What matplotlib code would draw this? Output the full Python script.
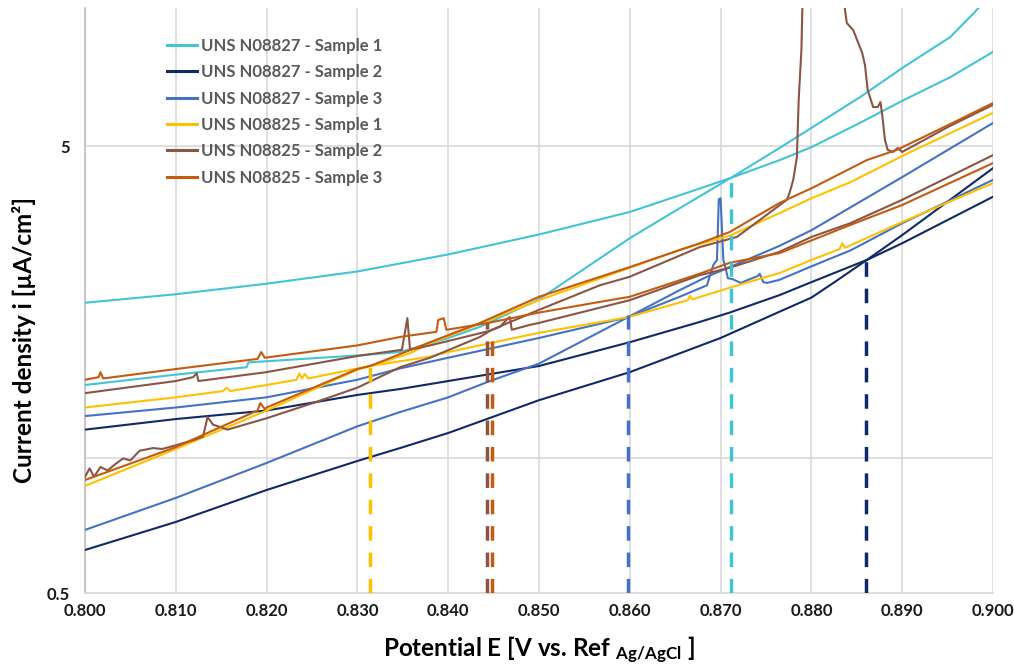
import matplotlib
matplotlib.use('Agg')
import matplotlib.pyplot as plt
from matplotlib.ticker import FixedLocator, NullLocator, FixedFormatter

plt.rcParams['font.family'] = ['Lato', 'DejaVu Sans']
plt.rcParams['font.weight'] = 'bold'
plt.rcParams['mathtext.fontset'] = 'custom'
plt.rcParams['mathtext.rm'] = 'Lato:bold'
plt.rcParams['mathtext.bf'] = 'Lato:bold'
plt.rcParams['mathtext.it'] = 'Lato:bold'

# ---------------- data ----------------
labels = ["UNS N08827 - Sample 1", "UNS N08827 - Sample 2", "UNS N08827 - Sample 3",
          "UNS N08825 - Sample 1", "UNS N08825 - Sample 2", "UNS N08825 - Sample 3"]
colors = ["#41c4d6", "#0f2a68", "#4472c4", "#ffc000", "#8b5545", "#c55a11"]

# UNS N08827 - Sample 1
s1a_x = [0.800, 0.810, 0.820, 0.830, 0.840, 0.850, 0.860, 0.8655, 0.8711, 0.8765, 0.880, 0.8854, 0.890, 0.8953, 0.900]
s1a_y = [2.23, 2.33, 2.46, 2.62, 2.86, 3.17, 3.56, 3.88, 4.24, 4.65, 4.97, 5.64, 6.31, 7.13, 8.12]
s1b_x = [0.800, 0.810, 0.8178, 0.8180, 0.820, 0.830, 0.8347, 0.840, 0.8435, 0.850, 0.860, 0.8655, 0.8711, 0.8765, 0.880, 0.8854, 0.890, 0.8953, 0.8980, 0.8990]
s1b_y = [1.46, 1.54, 1.60, 1.64, 1.65, 1.70, 1.73, 1.86, 1.97, 2.27, 3.11, 3.63, 4.24, 4.95, 5.49, 6.44, 7.47, 8.77, 9.97, 10.5]

# UNS N08827 - Sample 2
s2a_x = [0.800, 0.810, 0.820, 0.830, 0.8347, 0.840, 0.850, 0.860, 0.8677, 0.8710, 0.8765, 0.880, 0.8861, 0.890, 0.900]
s2a_y = [1.16, 1.225, 1.28, 1.387, 1.43, 1.49, 1.61, 1.82, 2.02, 2.12, 2.32, 2.48, 2.78, 3.03, 3.85]
s2b_x = [0.800, 0.810, 0.820, 0.830, 0.8347, 0.840, 0.850, 0.860, 0.870, 0.8765, 0.880, 0.8828, 0.8861, 0.890, 0.900]
s2b_y = [0.624, 0.721, 0.850, 0.987, 1.055, 1.14, 1.35, 1.56, 1.86, 2.13, 2.29, 2.50, 2.78, 3.16, 4.46]

# UNS N08827 - Sample 3
s3a_x = [0.800, 0.810, 0.820, 0.830, 0.8347, 0.840, 0.850, 0.8598, 0.8655, 0.8685, 0.8692, 0.8696,
         0.8698, 0.8700, 0.8703, 0.8705, 0.8708, 0.8713, 0.8722, 0.8741, 0.8743, 0.8747, 0.8751,
         0.8765, 0.880, 0.8843, 0.890, 0.900]
s3a_y = [1.244, 1.30, 1.37, 1.50, 1.59, 1.68, 1.86, 2.07, 2.30, 2.44, 2.71, 2.78,
         3.80, 3.82, 2.78, 2.69, 2.53, 2.52, 2.47, 2.56, 2.59, 2.48, 2.47,
         2.51, 2.69, 2.92, 3.36, 4.20]
s3b_x = [0.800, 0.810, 0.820, 0.830, 0.8347, 0.840, 0.8446, 0.850, 0.8598, 0.8655, 0.8685, 0.8765, 0.880, 0.890, 0.900]
s3b_y = [0.692, 0.816, 0.977, 1.18, 1.27, 1.37, 1.49, 1.63, 2.07, 2.38, 2.55, 2.99, 3.24, 4.26, 5.63]

# UNS N08825 - Sample 1
s4a_x = [0.800, 0.810, 0.8152, 0.8156, 0.8160, 0.820, 0.8233, 0.8236, 0.8239, 0.8242, 0.8246, 0.830,
         0.8314, 0.838, 0.840, 0.850, 0.8598, 0.8664, 0.8666, 0.8669, 0.871, 0.8765, 0.880,
         0.8831, 0.8834, 0.8837, 0.890, 0.900]
s4a_y = [1.30, 1.37, 1.415, 1.44, 1.415, 1.46, 1.50, 1.55, 1.51, 1.545, 1.51, 1.59,
         1.61, 1.69, 1.73, 1.91, 2.07, 2.26, 2.31, 2.27, 2.41, 2.60, 2.78,
         2.94, 3.03, 2.96, 3.38, 4.13]
s4b_x = [0.800, 0.810, 0.820, 0.830, 0.8314, 0.8358, 0.838, 0.8432, 0.850, 0.860, 0.8655, 0.871, 0.8765, 0.880, 0.8843, 0.890, 0.900]
s4b_y = [0.868, 1.05, 1.28, 1.58, 1.61, 1.72, 1.81, 1.99, 2.26, 2.67, 2.93, 3.15, 3.54, 3.82, 4.15, 4.75, 5.93]

# UNS N08825 - Sample 2
s5a_x = [0.800, 0.810, 0.8119, 0.8123, 0.8125, 0.820, 0.830, 0.8349, 0.8355, 0.8358, 0.838, 0.8446,
         0.8457, 0.8466, 0.8468, 0.8470, 0.849, 0.850, 0.860, 0.8677, 0.871, 0.8765, 0.880, 0.8843,
         0.890, 0.900]
s5a_y = [1.40, 1.49, 1.52, 1.55, 1.49, 1.56, 1.695, 1.75, 2.06, 1.75, 1.79, 1.93,
         1.97, 2.06, 2.07, 1.94, 1.99, 2.01, 2.26, 2.57, 2.67, 2.90, 3.13, 3.36,
         3.79, 4.77]
s5b_x = [0.800, 0.8005, 0.8010, 0.8017, 0.8025, 0.8033, 0.8042, 0.8050, 0.8060, 0.8075, 0.8085, 0.810,
         0.8120, 0.8130, 0.8135, 0.8141, 0.8152, 0.8157, 0.820, 0.8251, 0.830, 0.8347, 0.838, 0.8435,
         0.8448, 0.850, 0.8567, 0.860, 0.8677, 0.8718, 0.8773, 0.8776, 0.8780, 0.8784, 0.8786, 0.8789,
         0.8790, 0.8810, 0.8837, 0.8839, 0.8846, 0.8856, 0.8859, 0.8862, 0.8868, 0.8873, 0.8876, 0.8878,
         0.8881, 0.8884, 0.8890, 0.8895, 0.8900, 0.8953, 0.900]
s5b_y = [0.909, 0.95, 0.91, 0.957, 0.94, 0.97, 1.00, 0.99, 1.04, 1.055, 1.05, 1.07,
         1.10, 1.12, 1.238, 1.19, 1.17, 1.16, 1.23, 1.33, 1.44, 1.60, 1.68, 1.87,
         1.94, 2.15, 2.44, 2.55, 2.97, 3.13, 3.79, 3.93, 4.2, 4.72, 6.34, 8.20,
         10.08, 30.0, 10.08, 9.42, 9.09, 8.07, 7.59, 6.67, 6.11, 6.11, 6.27, 5.87,
         5.16, 4.90, 4.85, 4.95, 4.85, 5.55, 6.18]

# UNS N08825 - Sample 3
s6a_x = [0.800, 0.8015, 0.8017, 0.8020, 0.810, 0.8190, 0.8194, 0.8198, 0.830, 0.8347, 0.8387, 0.8389,
         0.8395, 0.8398, 0.8444, 0.850, 0.8567, 0.860, 0.8677, 0.871, 0.8765, 0.8843, 0.890, 0.900]
s6a_y = [1.50, 1.52, 1.56, 1.51, 1.585, 1.67, 1.73, 1.68, 1.79, 1.87, 1.92, 2.04,
         2.06, 1.94, 2.01, 2.12, 2.24, 2.30, 2.59, 2.74, 2.88, 3.33, 3.69, 4.58]
s6b_x = [0.800, 0.810, 0.8190, 0.8193, 0.8198, 0.820, 0.830, 0.8314, 0.838, 0.8435, 0.850, 0.860,
         0.8677, 0.871, 0.8765, 0.8801, 0.8861, 0.8894, 0.8953, 0.900]
s6b_y = [0.895, 1.06, 1.28, 1.33, 1.29, 1.30, 1.585, 1.61, 1.82, 2.01, 2.30, 2.68,
         3.03, 3.21, 3.73, 4.03, 4.65, 4.90, 5.60, 6.24]

curves_a = [(s1a_x, s1a_y), (s2a_x, s2a_y), (s3a_x, s3a_y), (s4a_x, s4a_y), (s5a_x, s5a_y), (s6a_x, s6a_y)]
curves_b = [(s1b_x, s1b_y), (s2b_x, s2b_y), (s3b_x, s3b_y), (s4b_x, s4b_y), (s5b_x, s5b_y), (s6b_x, s6b_y)]

# dashed markers (potential at intersection)
dash_x = [0.8711, 0.8860, 0.8598, 0.8314, 0.8443, 0.8448]
dash_top = [4.24, 2.81, 2.09, 1.61, 2.01, 1.94]

x_ticks = [0.80, 0.81, 0.82, 0.83, 0.84, 0.85, 0.86, 0.87, 0.88, 0.89, 0.90]
x_tick_labels = ["0.800", "0.810", "0.820", "0.830", "0.840", "0.850",
                 "0.860", "0.870", "0.880", "0.890", "0.900"]
y_ticks = [0.5, 1, 5]
y_tick_labels = ["0.5", "", "5"]

# ---------------- plot ----------------
W, H = 1014, 665
fig = plt.figure(figsize=(W / 100, H / 100), dpi=100)
ax = fig.add_axes([85 / W, 72 / H, 908 / W, 585 / H])

for i in range(6):
    xa, ya = curves_a[i]
    xb, yb = curves_b[i]
    ax.plot(xa, ya, color=colors[i], lw=1.5, label=labels[i], zorder=3)
    ax.plot(xb, yb, color=colors[i], lw=1.5, zorder=3)

for i in range(6):
    ax.plot([dash_x[i], dash_x[i]], [0.5, dash_top[i]], color=colors[i], lw=2.5,
            dashes=(4.2, 3.4), dash_capstyle='butt', zorder=4)

ax.set_yscale('log')
ax.set_xlim(0.8, 0.9)
ax.set_ylim(0.5, 10.18)
ax.yaxis.set_major_locator(FixedLocator(y_ticks))
ax.yaxis.set_major_formatter(FixedFormatter(y_tick_labels))
ax.yaxis.set_minor_locator(NullLocator())
ax.set_xticks(x_ticks)
ax.set_xticklabels(x_tick_labels)
ax.grid(True, color='#d9d9d9', lw=1.2, zorder=0)
ax.set_axisbelow(True)
ax.tick_params(axis='both', length=0, labelsize=12, colors='#1a1a1a')
ax.tick_params(axis='x', pad=7)
ax.tick_params(axis='y', pad=11)
for s in ['top', 'right']:
    ax.spines[s].set_visible(False)
ax.spines['left'].set_color('#bfbfbf')
ax.spines['bottom'].set_color('#d9d9d9')
ax.spines['left'].set_linewidth(1.2)
ax.spines['bottom'].set_linewidth(1.2)

leg = ax.legend(loc='upper left', bbox_to_anchor=(0.0905, 0.949), frameon=False,
                fontsize=12, handlelength=1.8, handletextpad=0.2, labelspacing=0.62,
                borderpad=0, borderaxespad=0)
for t in leg.get_texts():
    t.set_color('#595959')
for l in leg.get_lines():
    l.set_linewidth(2.2)

fig.text(539 / W, 1 - 657 / H, r"Potential E [V vs. Ref $_{\mathrm{Ag/AgCl}}$ ]",
         ha='center', va='baseline', fontsize=17.5, fontweight='bold', color='black')
fig.text(24 / W, 1 - 340 / H, "Current density i [µA/cm²]", rotation=90,
         ha='center', va='center', fontsize=17.5, fontweight='bold', color='black')

fig.savefig('out.png', dpi=100)
